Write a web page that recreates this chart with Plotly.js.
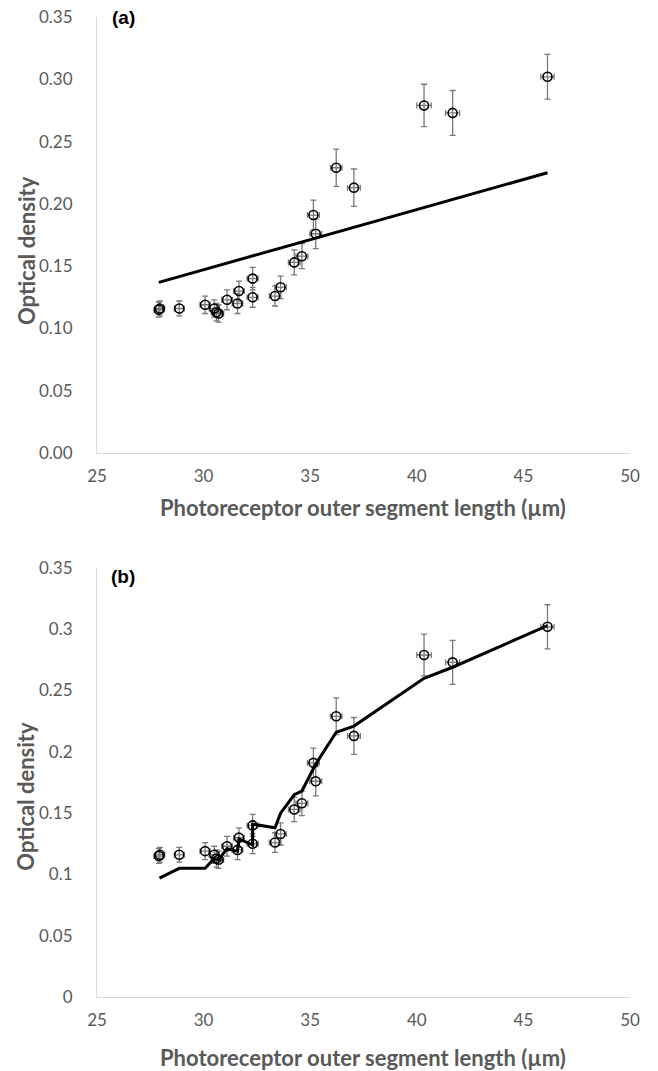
<!DOCTYPE html>
<html>
<head>
<meta charset="utf-8">
<script src="https://cdn.plot.ly/plotly-3.0.1.min.js"></script>
<style>html,body{margin:0;padding:0;background:#fff;}#chart{width:658px;height:1071px;}</style>
</head>
<body>
<div id="chart"></div>
<script>
// Measured points: photoreceptor outer segment length (µm) vs optical density
const posLength = [27.9, 27.95, 28.86, 30.07, 30.5, 30.6, 30.7, 31.1, 31.59, 31.66, 32.3, 32.3, 33.35, 33.61, 34.25, 34.61, 35.15, 35.26, 36.22, 37.05, 40.34, 41.68, 46.13];
const opticalDensity = [0.115, 0.116, 0.116, 0.119, 0.116, 0.113, 0.112, 0.123, 0.120, 0.130, 0.125, 0.140, 0.126, 0.133, 0.153, 0.158, 0.191, 0.176, 0.229, 0.213, 0.279, 0.273, 0.302];
const odError = [0.006, 0.006, 0.006, 0.007, 0.007, 0.007, 0.007, 0.008, 0.008, 0.008, 0.008, 0.009, 0.008, 0.009, 0.010, 0.010, 0.012, 0.012, 0.015, 0.015, 0.017, 0.018, 0.018];
const lengthError = [0.22, 0.22, 0.23, 0.24, 0.24, 0.24, 0.24, 0.25, 0.25, 0.25, 0.26, 0.26, 0.27, 0.27, 0.27, 0.28, 0.28, 0.28, 0.27, 0.3, 0.34, 0.33, 0.31];

// (a) linear fit
const fitA_x = [27.9, 46.13];
const fitA_y = [0.137, 0.225];

// (b) model prediction at each measured length
const fitB_x = [27.93, 28.86, 30.07, 30.5, 30.6, 30.7, 31.1, 31.59, 31.66, 32.3, 32.3, 33.35, 33.61, 34.25, 34.61, 35.15, 35.26, 36.22, 37.05, 40.34, 41.68, 46.13];
const fitB_y = [0.097, 0.105, 0.105, 0.113, 0.112, 0.112, 0.121, 0.119, 0.129, 0.124, 0.141, 0.138, 0.150, 0.165, 0.168, 0.186, 0.190, 0.216, 0.221, 0.260, 0.269, 0.303];

const xTitle = 'Photoreceptor outer segment length (µm)';
const yTitle = 'Optical density';

const FONT = 'Lato, "Open Sans", sans-serif';
const GREY = '#595959';

function pts(xa, ya) {
  return {
    x: posLength, y: opticalDensity, xaxis: xa, yaxis: ya,
    type: 'scatter', mode: 'markers',
    marker: {symbol: 'circle-open', size: 9, color: '#000', line: {width: 1.6, color: '#000'}},
    error_y: {type: 'data', array: odError, visible: true, color: '#7a7a7a', thickness: 1.3, width: 3},
    error_x: {type: 'data', array: lengthError, visible: true, color: '#7a7a7a', thickness: 1.3, width: 3},
    showlegend: false, hoverinfo: 'x+y'
  };
}

const traces = [
  pts('x', 'y'),
  {x: fitA_x, y: fitA_y, xaxis: 'x', yaxis: 'y', type: 'scatter', mode: 'lines', line: {color: '#000', width: 3}, showlegend: false},
  pts('x2', 'y2'),
  {x: fitB_x, y: fitB_y, xaxis: 'x2', yaxis: 'y2', type: 'scatter', mode: 'lines', line: {color: '#000', width: 3}, showlegend: false}
];

const xax = (anchor) => ({
  anchor: anchor, range: [25, 50], dtick: 5, tick0: 25,
  showline: true, linecolor: '#d9d9d9', linewidth: 1,
  showgrid: false, zeroline: false, ticks: '', ticklabelstandoff: 8,
  tickfont: {family: FONT, size: 17, color: GREY}
});
const yax = (anchor, domain, fmt) => ({
  anchor: anchor, domain: domain, range: [0, 0.35], dtick: 0.05, tick0: 0,
  tickformat: fmt,
  showline: true, linecolor: '#d9d9d9', linewidth: 1,
  showgrid: false, zeroline: false, ticks: '', ticklabelstandoff: 20,
  tickfont: {family: FONT, size: 17, color: GREY}
});

const titleFont = {family: FONT, size: 22, color: GREY, weight: 'bold'};
const panelFont = {family: 'Liberation Sans, Arial, sans-serif', size: 19, color: '#000', weight: 'bold'};

const layout = {
  width: 658, height: 1071,
  margin: {l: 97, r: 28, t: 17, b: 74},
  paper_bgcolor: '#fff', plot_bgcolor: '#fff',
  xaxis: xax('y'),
  yaxis: yax('x', [0.5551, 1], '.2f'),
  xaxis2: xax('y2'),
  yaxis2: yax('x2', [0, 0.4378], ''),
  annotations: [
    {text: '<b>' + yTitle + '</b>', xref: 'paper', yref: 'paper', x: -0.1332, y: 0.7612, xanchor: 'center', yanchor: 'middle', textangle: -90, showarrow: false, font: titleFont},
    {text: '<b>' + yTitle + '</b>', xref: 'paper', yref: 'paper', x: -0.1332, y: 0.2044, xanchor: 'center', yanchor: 'middle', textangle: -90, showarrow: false, font: titleFont},
    {text: '<b>' + xTitle + '</b>', xref: 'paper', yref: 'paper', x: 0.499, y: 0.499, xanchor: 'center', yanchor: 'middle', showarrow: false, font: titleFont},
    {text: '<b>' + xTitle + '</b>', xref: 'paper', yref: 'paper', x: 0.499, y: -0.0622, xanchor: 'center', yanchor: 'middle', showarrow: false, font: titleFont},
    {text: '<b>(a)</b>', xref: 'paper', yref: 'paper', x: 0.0495, y: 1.0, xanchor: 'center', yanchor: 'middle', showarrow: false, font: panelFont},
    {text: '<b>(b)</b>', xref: 'paper', yref: 'paper', x: 0.0495, y: 0.4286, xanchor: 'center', yanchor: 'middle', showarrow: false, font: panelFont}
  ]
};

Plotly.newPlot('chart', traces, layout, {displayModeBar: false, staticPlot: true});
</script>
</body>
</html>
